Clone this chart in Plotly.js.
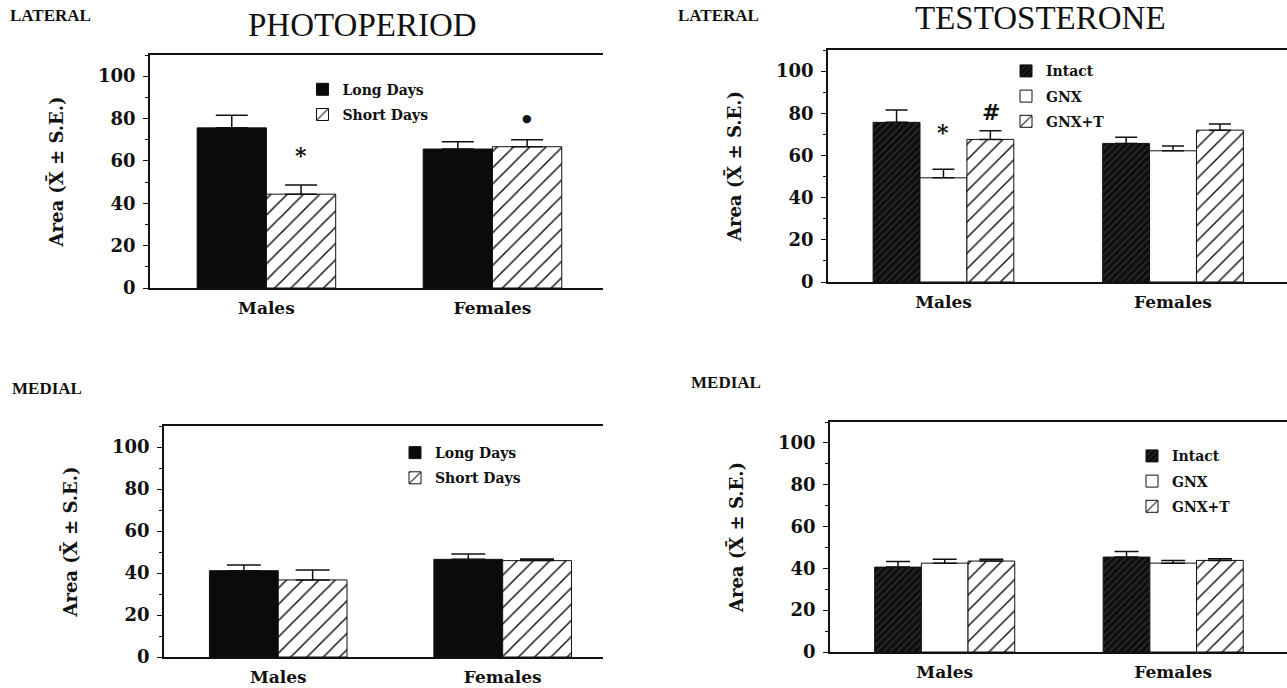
<!DOCTYPE html>
<html><head><meta charset="utf-8">
<script src="https://cdn.plot.ly/plotly-3.0.1.min.js"></script>
<style>html,body{margin:0;padding:0;background:#fff}</style>
</head><body><div id="chart" style="width:1287px;height:688px"></div>
<script>
// ---------- data ----------
const categories = ['Males', 'Females'];
const yTickVals = [0, 20, 40, 60, 80, 100];

// Photoperiod, lateral
const photoLatLong = [75.6, 65.6];
const photoLatLongSE = [6.0, 3.4];
const photoLatShort = [44.3, 66.7];
const photoLatShortSE = [4.3, 3.3];
// Photoperiod, medial
const photoMedLong = [41.1, 46.5];
const photoMedLongSE = [2.7, 2.5];
const photoMedShort = [36.7, 45.9];
const photoMedShortSE = [4.7, 0.8];
// Testosterone, lateral
const testoLatIntact = [75.7, 65.7];
const testoLatIntactSE = [5.8, 2.9];
const testoLatGnx = [49.4, 62.2];
const testoLatGnxSE = [4.1, 2.3];
const testoLatGnxT = [67.6, 72.0];
const testoLatGnxTSE = [4.1, 2.9];
// Testosterone, medial
const testoMedIntact = [40.6, 45.4];
const testoMedIntactSE = [2.7, 2.7];
const testoMedGnx = [42.5, 42.5];
const testoMedGnxSE = [1.8, 1.3];
const testoMedGnxT = [43.5, 43.8];
const testoMedGnxTSE = [0.8, 0.8];

// significance marks: [category position, height, label]
const marksTL = [[0.154, 63, '*'], [1.154, 80, '●']];
const marksTR = [[0.0, 71.3, '*'], [0.205, 80.7, '#']];

// ---------- styles ----------
const INK = '#111';
const serif = 'DejaVu Serif';
const styles = {
  long:   {color: '#0b0b0b', line: {color: INK, width: 1}},
  short:  {color: '#fff', line: {color: INK, width: 1},
           pattern: {shape: '/', fgcolor: INK, bgcolor: '#fff', size: 11.5, solidity: 0.13, fillmode: 'replace'}},
  intact: {color: '#0e0e0e', line: {color: INK, width: 1},
           pattern: {shape: '/', fgcolor: '#3c3c3c', bgcolor: '#0e0e0e', size: 5, solidity: 0.2, fillmode: 'replace'}},
  gnx:    {color: '#fff', line: {color: INK, width: 1}},
  gnxt:   {color: '#fff', line: {color: INK, width: 1},
           pattern: {shape: '/', fgcolor: INK, bgcolor: '#fff', size: 11, solidity: 0.13, fillmode: 'replace'}}
};

function bar(name, vals, se, style, ax, leg, capw) {
  return {
    type: 'bar', name: name, x: categories, y: vals,
    xaxis: 'x' + ax, yaxis: 'y' + ax, legend: leg, legendgroup: name + ax,
    marker: style,
    error_y: {type: 'data', symmetric: false, array: se, arrayminus: se.map(() => 0),
              color: INK, thickness: 1.5, width: capw},
    hoverinfo: 'x+y+name'
  };
}

const data = [
  bar('Long Days', photoLatLong, photoLatLongSE, styles.long, '', 'legend', 16),
  bar('Short Days', photoLatShort, photoLatShortSE, styles.short, '', 'legend', 16),
  bar('Intact', testoLatIntact, testoLatIntactSE, styles.intact, '2', 'legend2', 11),
  bar('GNX', testoLatGnx, testoLatGnxSE, styles.gnx, '2', 'legend2', 11),
  bar('GNX+T', testoLatGnxT, testoLatGnxTSE, styles.gnxt, '2', 'legend2', 11),
  bar('Long Days', photoMedLong, photoMedLongSE, styles.long, '3', 'legend3', 17),
  bar('Short Days', photoMedShort, photoMedShortSE, styles.short, '3', 'legend3', 17),
  bar('Intact', testoMedIntact, testoMedIntactSE, styles.intact, '4', 'legend4', 12),
  bar('GNX', testoMedGnx, testoMedGnxSE, styles.gnx, '4', 'legend4', 12),
  bar('GNX+T', testoMedGnxT, testoMedGnxTSE, styles.gnxt, '4', 'legend4', 12)
];

const W = 1287, H = 688;
const px = v => v / W;
const py = v => 1 - v / H;

function xax(domain, range) {
  return {domain: domain, range: range, type: 'category', showline: true, mirror: true,
          linecolor: INK, linewidth: 1.5, ticks: '', showgrid: false, zeroline: false,
          ticklabelstandoff: 4,
          tickfont: {family: serif, size: 17, weight: 'bold', color: INK}, fixedrange: true};
}
function yax(domain, anchor) {
  return {domain: domain, range: [0, 110], anchor: anchor, tickvals: yTickVals,
          showline: true, linecolor: INK, linewidth: 1.5, ticks: 'outside', ticklen: 5,
          tickwidth: 1.2, tickcolor: INK, showgrid: false, zeroline: false,
          ticklabelstandoff: 4,
          minor: {dtick: 10, ticks: 'outside', ticklen: 3, tickcolor: INK, tickwidth: 1},
          tickfont: {family: serif, size: 18, weight: 'bold', color: INK},
          title: {text: 'Area (X\u0304 \u00b1 S.E.)', standoff: 30,
                  font: {family: serif, size: 18, weight: 'bold', color: INK}},
          fixedrange: true};
}
function legend(xs, ys) {
  return {x: px(xs - 20), y: py(ys - 13), xanchor: 'left', yanchor: 'top',
          bgcolor: 'rgba(0,0,0,0)', borderwidth: 0, tracegroupgap: 4,
          font: {family: serif, size: 14, weight: 'bold', color: INK}};
}

const annotations = [];
function txt(x, y, text, size, weight, family, xanchor) {
  annotations.push({xref: 'paper', yref: 'paper', x: px(x), y: py(y), text: text, showarrow: false,
                    xanchor: xanchor || 'center', yanchor: 'middle',
                    font: {family: family || serif, size: size, weight: weight || 'bold', color: INK}});
}
txt(362, 25, 'PHOTOPERIOD', 33, 'normal', 'Liberation Serif');
txt(1040, 18, 'TESTOSTERONE', 33, 'normal', 'Liberation Serif');
txt(8, 15, 'LATERAL', 17, 'bold', 'Liberation Serif', 'left');
txt(676, 15, 'LATERAL', 17, 'bold', 'Liberation Serif', 'left');
txt(10, 388, 'MEDIAL', 17, 'bold', 'Liberation Serif', 'left');
txt(689, 382, 'MEDIAL', 17, 'bold', 'Liberation Serif', 'left');

function marks(list, ax) {
  list.forEach(m => {
    annotations.push({xref: 'x' + ax, yref: 'y' + ax, x: m[0], y: m[1], text: m[2], showarrow: false,
                      xanchor: 'center', yanchor: 'middle',
                      font: {family: serif, size: m[2] === '●' ? 11 : 22, weight: 'bold', color: INK}});
  });
}
marks(marksTL, '');
marks(marksTR, '2');

const layout = {
  width: W, height: H, margin: {l: 0, r: 0, t: 0, b: 0},
  paper_bgcolor: '#fff', plot_bgcolor: 'rgba(0,0,0,0)',
  barmode: 'group', bargap: 0.387, bargroupgap: 0,
  showlegend: true,
  xaxis: xax([px(150), px(603)], [-0.515, 1.489]),
  yaxis: yax([py(288), py(55)], 'x'),
  xaxis2: xax([px(828), 1], [-0.503, 1.4965]),
  yaxis2: yax([py(282), py(50)], 'x2'),
  xaxis3: xax([px(164), px(603)], [-0.509, 1.447]),
  yaxis3: yax([py(657), py(426)], 'x3'),
  xaxis4: xax([px(830), 1], [-0.502, 1.498]),
  yaxis4: yax([py(652), py(422)], 'x4'),
  legend: legend(322.5, 86.7),
  legend2: legend(1026, 68.3),
  legend3: legend(415, 450),
  legend4: legend(1152, 453.3),
  annotations: annotations
};
layout.xaxis.anchor = 'y';
layout.xaxis2.anchor = 'y2';
layout.xaxis3.anchor = 'y3';
layout.xaxis4.anchor = 'y4';

Plotly.newPlot('chart', data, layout, {displayModeBar: false, responsive: false});
</script>
</body></html>
